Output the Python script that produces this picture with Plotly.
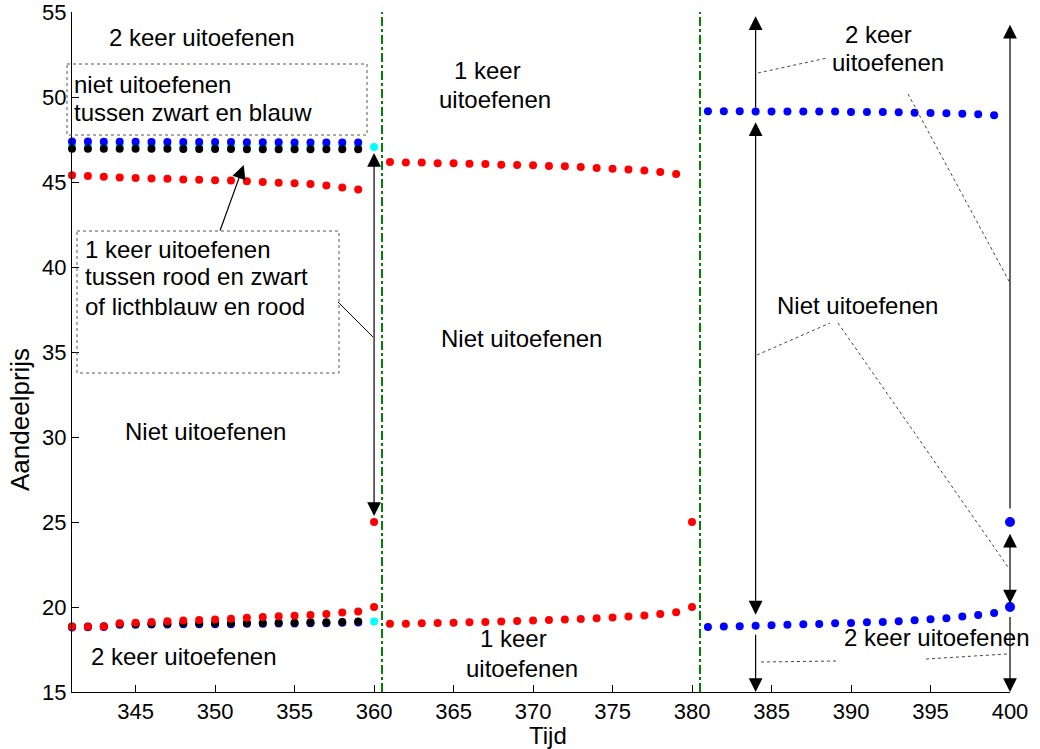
import plotly.graph_objects as go

# ---------------- data ----------------
tijd_a = list(range(341, 360))
tijd_b = list(range(361, 380))
tijd_c = list(range(381, 400))

blauw_boven_a = [47.38, 47.38, 47.37, 47.37, 47.37, 47.36, 47.36, 47.36, 47.35, 47.35,
                 47.35, 47.34, 47.34, 47.34, 47.33, 47.33, 47.33, 47.32, 47.32]
lichtblauw_boven_a = [47.15, 47.15, 47.15, 47.14, 47.14, 47.14, 47.13, 47.13, 47.13, 47.12,
                      47.12, 47.12, 47.11, 47.11, 47.11, 47.10, 47.10, 47.10, 47.09]
zwart_boven_a = [46.96, 46.96, 46.96, 46.95, 46.95, 46.95, 46.95, 46.94, 46.94, 46.94,
                 46.94, 46.93, 46.93, 46.93, 46.93, 46.92, 46.92, 46.92, 46.92]
rood_boven_a = [45.39, 45.35, 45.31, 45.27, 45.23, 45.21, 45.19, 45.15, 45.13, 45.11,
                45.09, 45.04, 45.00, 44.96, 44.92, 44.88, 44.80, 44.68, 44.56]
rood_onder_a = [18.84, 18.84, 18.86, 19.04, 19.08, 19.12, 19.16, 19.20, 19.24, 19.27,
                19.31, 19.37, 19.41, 19.45, 19.49, 19.53, 19.59, 19.67, 19.73]
zwart_onder_a = [18.85, 18.86, 18.87, 19.00, 19.00, 19.02, 19.02, 19.04, 19.04, 19.04,
                 19.04, 19.06, 19.06, 19.08, 19.08, 19.10, 19.10, 19.12, 19.14]
blauw_onder_a = [18.80, 18.81, 18.82, 18.95, 18.95, 18.97, 18.97, 18.99, 18.99, 18.99,
                 18.99, 19.01, 19.01, 19.03, 19.03, 19.05, 19.05, 19.07, 19.09]

lichtblauw_tijd = [360, 360]
lichtblauw_punten = [47.06, 19.14]

rood_boven_b = [46.17, 46.15, 46.15, 46.11, 46.10, 46.08, 46.06, 46.02, 46.00, 45.98,
                45.94, 45.92, 45.88, 45.82, 45.78, 45.73, 45.67, 45.59, 45.47]
rood_onder_b = [19.02, 19.02, 19.04, 19.06, 19.08, 19.10, 19.12, 19.14, 19.18, 19.20,
                19.24, 19.26, 19.30, 19.34, 19.38, 19.44, 19.50, 19.59, 19.69]

blauw_boven_c = [49.16, 49.16, 49.16, 49.14, 49.14, 49.14, 49.14, 49.14, 49.14, 49.12,
                 49.12, 49.12, 49.10, 49.08, 49.06, 49.04, 49.02, 48.98, 48.92]
blauw_onder_c = [18.83, 18.85, 18.87, 18.89, 18.93, 18.96, 18.98, 19.00, 19.04, 19.06,
                 19.10, 19.12, 19.16, 19.22, 19.28, 19.34, 19.44, 19.53, 19.65]

sprong_tijd_rood = [360, 360, 380, 380]
sprong_rood = [25.0, 20.0, 25.0, 20.0]
sprong_tijd_blauw = [400, 400]
sprong_blauw = [25.0, 20.0]

grenzen = [360.5, 380.5]
x_ticks = list(range(345, 401, 5))
y_ticks = list(range(15, 56, 5))

# ---------------- figure ----------------
FONT = "Liberation Sans, Arial, Helvetica, sans-serif"
W, H = 1040, 749
PL, PR, PT, PB = 72, 1010, 12, 692   # plot area in page pixels
L, R, T, B = PL, W - PR, PT, H - PB
PW, PH = PR - PL, PB - PT


def px(xp):
    return (xp - PL) / PW


def py(yp):
    return (PB - yp) / PH


fig = go.Figure()


def dots(x, y, color, size=8):
    fig.add_trace(go.Scatter(x=x, y=y, mode="markers", cliponaxis=False,
                             marker=dict(color=color, size=size, line=dict(width=0)),
                             showlegend=False, hoverinfo="skip"))


dots(tijd_a, lichtblauw_boven_a, "#00ffff")
dots(tijd_a, blauw_boven_a, "#0000ff")
dots(tijd_a, zwart_boven_a, "#000000")
dots(tijd_a, blauw_onder_a, "#0000ff")
dots(tijd_a, zwart_onder_a, "#000000")
dots(lichtblauw_tijd, lichtblauw_punten, "#00ffff")
dots(tijd_a, rood_boven_a, "#ff0000")
dots(tijd_a, rood_onder_a, "#ff0000")
dots(tijd_b, rood_boven_b, "#ff0000")
dots(tijd_b, rood_onder_b, "#ff0000")
dots(sprong_tijd_rood, sprong_rood, "#ff0000")
dots(tijd_c, blauw_boven_c, "#0000ff")
dots(tijd_c, blauw_onder_c, "#0000ff")
dots(sprong_tijd_blauw, sprong_blauw, "#0000ff", size=10)

shapes = []
for g in grenzen:
    shapes.append(dict(type="line", xref="x", yref="paper", x0=g, x1=g, y0=0, y1=1,
                       line=dict(color="#008000", width=2, dash="dashdot"), layer="above"))


def dotted_line(x0, y0, x1, y1, color="#444444"):
    shapes.append(dict(type="line", xref="paper", yref="paper",
                       x0=px(x0), y0=py(y0), x1=px(x1), y1=py(y1),
                       line=dict(color=color, width=1, dash="dot")))


def dotted_box(x0, y0, x1, y1):
    shapes.append(dict(type="rect", xref="paper", yref="paper",
                       x0=px(x0), y0=py(y0), x1=px(x1), y1=py(y1),
                       line=dict(color="#555555", width=1, dash="dot")))


dotted_box(67, 64, 367, 135)
dotted_box(77, 231, 339, 373)
dotted_line(758, 73, 827, 58)
dotted_line(908, 94, 1010, 283)
dotted_line(757, 355, 830, 323)
dotted_line(838, 323, 1008, 567)
dotted_line(761, 662, 837, 661)
dotted_line(926, 659, 1007, 654)
shapes.append(dict(type="line", xref="paper", yref="paper",
                   x0=px(338), y0=py(302), x1=px(373), y1=py(337),
                   line=dict(color="#000000", width=1)))

annotations = []


def label(text, xc, yc, anchor="center", size=24, angle=0):
    annotations.append(dict(text=text, xref="paper", yref="paper", x=px(xc), y=py(yc),
                            xanchor=anchor, yanchor="middle", showarrow=False,
                            textangle=angle,
                            font=dict(family=FONT, size=size, color="#000000")))


label("2 keer uitoefenen", 201, 38)
label("niet uitoefenen", 72, 85, "left")
label("tussen zwart en blauw", 72, 112, "left")
label("1 keer uitoefenen", 83, 249, "left")
label("tussen rood en zwart", 83, 277, "left")
label("of licthblauw en rood", 83, 306, "left")
label("Niet uitoefenen", 205, 431)
label("2 keer uitoefenen", 183, 656)
label("1 keer", 487, 70)
label("uitoefenen", 495, 100)
label("Niet uitoefenen", 521, 338)
label("1 keer", 513, 638)
label("uitoefenen", 522, 668)
label("2 keer", 878, 35)
label("uitoefenen", 888, 63)
label("Niet uitoefenen", 857, 305)
label("2 keer uitoefenen", 936, 637)
# axis titles
label("Tijd", 548, 735)
label("Aandeelprijs", 20, 420, size=26, angle=-90)


def arrow(x, y, ax, ay, both=False):
    d = dict(text="", x=x, y=y, ax=ax, ay=ay, xref="x", yref="y", axref="x", ayref="y",
             showarrow=True, arrowhead=2, arrowsize=2.3, arrowwidth=1.2,
             arrowcolor="#000000", standoff=0, startstandoff=0)
    if both:
        d.update(arrowside="end+start", startarrowhead=2, startarrowsize=2.3)
    annotations.append(d)


# arrows at t = 384
arrow(384, 54.75, 384, 49.3)
arrow(384, 19.55, 384, 48.6, both=True)
arrow(384, 15.0, 384, 18.45)
# arrows at t = 400
arrow(400, 54.25, 400, 25.7)
arrow(400, 20.2, 400, 24.4, both=True)
arrow(400, 15.0, 400, 19.5)
# arrow at t = 360
arrow(360, 25.35, 360, 46.8, both=True)
# arrow pointing to black dots
arrow(351.8, 46.0, 350.28, 42.06)

fig.update_layout(
    width=W, height=H,
    margin=dict(l=L, r=R, t=T, b=B, autoexpand=False),
    paper_bgcolor="#ffffff", plot_bgcolor="#ffffff",
    font=dict(family=FONT, size=24, color="#000000"),
    shapes=shapes, annotations=annotations,
    xaxis=dict(range=[341, 400], tickvals=x_ticks, ticks="inside", ticklen=7,
               tickcolor="#000000", showgrid=False, zeroline=False, showline=True,
               linecolor="#000000", linewidth=1, mirror=False, automargin=False,
               tickfont=dict(family=FONT, size=22), ticklabeloverflow="allow"),
    yaxis=dict(range=[15, 55], tickvals=y_ticks, ticks="inside", ticklen=7,
               tickcolor="#000000", showgrid=False, zeroline=False, showline=True,
               linecolor="#000000", linewidth=1, mirror=False, automargin=False,
               tickfont=dict(family=FONT, size=22), ticklabeloverflow="allow"),
)

fig.write_html(
    "out.html",
    config={"displayModeBar": False},
    post_script="document.body.style.margin='0';document.body.style.overflow='hidden';",
)
